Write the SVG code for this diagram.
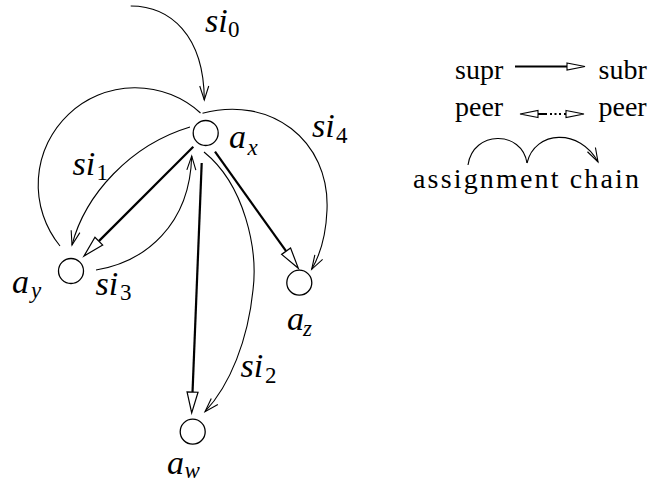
<svg xmlns="http://www.w3.org/2000/svg" width="648" height="485" viewBox="0 0 648 485">
<style>
.thin{fill:none;stroke:#000;stroke-width:1.1}
.thick{fill:none;stroke:#000;stroke-width:2.2}
.node circle{fill:#fff;stroke:#000;stroke-width:1.3}
.m{font-family:"Liberation Serif","DejaVu Serif",serif;font-style:italic;font-size:34px;fill:#000}
.sub{font-size:23px}
.num{font-style:normal}
.leg{font-family:"Liberation Serif","DejaVu Serif",serif;font-size:28px;fill:#000}
</style>
<defs>
<marker id="v" markerUnits="userSpaceOnUse" markerWidth="30" markerHeight="30" refX="0" refY="0" orient="auto" overflow="visible">
<path d="M-14,-4.5 L0,0 L-14,4.5" fill="none" stroke="#000" stroke-width="1.1"/>
</marker>
<marker id="tri" markerUnits="userSpaceOnUse" markerWidth="30" markerHeight="30" refX="0" refY="0" orient="auto" overflow="visible">
<path d="M0,-5.5 L21,0 L0,5.5 Z" fill="#fff" stroke="#000" stroke-width="1.2"/>
</marker>
<marker id="triS" markerUnits="userSpaceOnUse" markerWidth="30" markerHeight="30" refX="0" refY="0" orient="auto-start-reverse" overflow="visible">
<path d="M0,-3.5 L18,0 L0,3.5 Z" fill="#fff" stroke="#000" stroke-width="1.1"/>
</marker>
</defs>

<g id="connectors">
<g id="e-si0">
<path class="thin" d="M130.7,6 C170,6 204,35 204.3,100" marker-end="url(#v)"/>
<text class="m" x="205" y="31.7">si<tspan class="sub num" x="228" y="36.5">0</tspan></text>
</g>
<g id="e-chain-left">
<path class="thin" d="M60,246 A97,97 0 0 1 200.5,113"/>
</g>
<g id="e-si4">
<path class="thin" d="M202.5,113.3 C270,95 330,140 327,210 C326,235 320,255 311.7,269.3" marker-end="url(#v)"/>
<text class="m" x="312" y="137">si<tspan class="sub num" x="336" y="143">4</tspan></text>
</g>
<g id="e-si1">
<path class="thin" d="M190,127 C130,145 85,195 72,245" marker-end="url(#v)"/>
<text class="m" x="72.5" y="175">si<tspan class="sub num" x="96.5" y="180">1</tspan></text>
</g>
<g id="e-si3">
<path class="thin" d="M96,270 C145,262 190,225 191.7,156" marker-end="url(#v)"/>
<text class="m" x="95.5" y="295">si<tspan class="sub num" x="120" y="300">3</tspan></text>
</g>
<g id="e-si2">
<path class="thin" d="M204,152 C245,185 258,250 253,290 C248,340 230,385 205,411.7" marker-end="url(#v)"/>
<text class="m" x="240.5" y="377">si<tspan class="sub num" x="265" y="383">2</tspan></text>
</g>
<g id="e-ax-ay">
<path class="thick" d="M193.3,146.7 L98.85,241.15" marker-end="url(#tri)"/>
</g>
<g id="e-ax-aw">
<path class="thick" d="M201.7,163 L192.54,392.02" marker-end="url(#tri)"/>
</g>
<g id="e-ax-az">
<path class="thick" d="M215,151.7 L286.1,251.2" marker-end="url(#tri)"/>
</g>
</g>

<g id="node-ax" class="node">
<circle cx="205.7" cy="133" r="12.5"/>
<text class="m" x="229" y="148.3">a<tspan class="sub" x="247.5" y="155">x</tspan></text>
</g>
<g id="node-ay" class="node">
<circle cx="71" cy="271" r="12.5"/>
<text class="m" x="12" y="292.5">a<tspan class="sub" x="31" y="298">y</tspan></text>
</g>
<g id="node-az" class="node">
<circle cx="299.3" cy="282.7" r="12.5"/>
<text class="m" x="287" y="330">a<tspan class="sub" x="303" y="336">z</tspan></text>
</g>
<g id="node-aw" class="node">
<circle cx="192.7" cy="431.7" r="12.5"/>
<text class="m" x="167" y="473.5">a<tspan class="sub" x="184.5" y="478">w</tspan></text>
</g>

<g id="legend">
<text class="leg" x="455" y="79">supr</text>
<path class="thick" d="M515,66.5 L567,66.5" stroke-width="2" marker-end="url(#triS)"/>
<text class="leg" x="598.5" y="79">subr</text>
<text class="leg" x="455" y="116">peer</text>
<path d="M538,114 L566,114" fill="none" stroke="#000" stroke-width="2" stroke-dasharray="9 3 2 2.5 2 2.5 2 3" marker-start="url(#triS)" marker-end="url(#triS)"/>
<text class="leg" x="598.5" y="116">peer</text>
<path class="thin" d="M468,165 C473,130 522,130 527,163"/>
<path class="thin" d="M527,163 C535,130 580,128 598,162" marker-end="url(#v)"/>
<text class="leg" x="413" y="188" textLength="226" lengthAdjust="spacing">assignment chain</text>
</g>
</svg>
